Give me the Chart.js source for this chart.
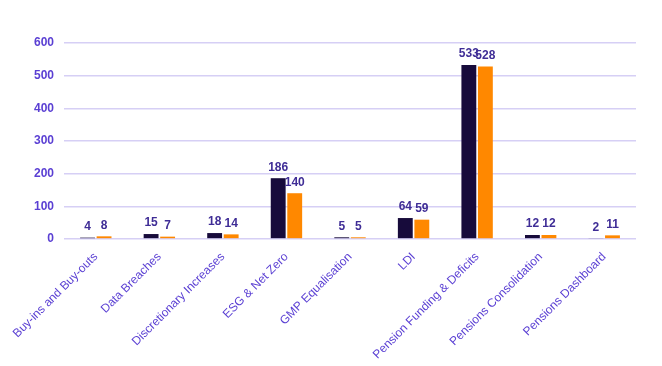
<!DOCTYPE html>
<html>
<head>
<meta charset="utf-8">
<script src="https://cdn.jsdelivr.net/npm/chart.js@4"></script>
<style>
  html, body { margin: 0; padding: 0; background: #fff; }
  #wrap { width: 662px; height: 366px; }
</style>
</head>
<body>
<div id="wrap"><canvas id="topicChart"></canvas></div>
<script>
const categories = [
    'Buy-ins and Buy-outs', 'Data Breaches', 'Discretionary Increases',
    'ESG & Net Zero', 'GMP Equalisation', 'LDI',
    'Pension Funding & Deficits', 'Pensions Consolidation', 'Pensions Dashboard'
];
const seriesA = [4, 15, 18, 186, 5, 64, 533, 12, 2];   // dark bars
const seriesB = [8, 7, 14, 140, 5, 59, 528, 12, 11];   // orange bars
const yTicks = [0, 100, 200, 300, 400, 500, 600];

// draw the value above each bar (no datalabels plugin offline)
const barValues = {
    id: 'barValues',
    afterDatasetsDraw(chart) {
        const ctx = chart.ctx;
        ctx.save();
        ctx.font = 'bold 12px "Liberation Sans", Arial, sans-serif';
        ctx.fillStyle = '#3f2d96';
        ctx.textAlign = 'center';
        ctx.textBaseline = 'bottom';
        chart.data.datasets.forEach((ds, i) => {
            chart.getDatasetMeta(i).data.forEach((bar, j) => {
                ctx.fillText(ds.data[j], bar.x, bar.y - 5);
            });
        });
        ctx.restore();
    }
};

const ctx = document.getElementById('topicChart').getContext('2d');
new Chart(ctx, {
    type: 'bar',
    data: {
        labels: categories,
        datasets: [
            { label: 'A', data: seriesA, backgroundColor: '#170b3b' },
            { label: 'B', data: seriesB, backgroundColor: '#ff8800' }
        ]
    },
    options: {
        responsive: true,
        maintainAspectRatio: false,
        animation: false,
        categoryPercentage: 0.52,
        barPercentage: 0.9,
        layout: { padding: { top: 43, right: 26, left: 24, bottom: 1 } },
        plugins: { legend: { display: false }, tooltip: { enabled: false } },
        scales: {
            x: {
                grid: { display: false },
                border: { display: false },
                afterFit(scale) { scale.paddingLeft = 0; scale.paddingRight = 0; },
                ticks: {
                    color: '#5a3fd3',
                    font: { family: '"Liberation Sans", Arial, sans-serif', size: 12 },
                    maxRotation: 45, minRotation: 45, padding: 3
                }
            },
            y: {
                min: 0, max: 600,
                afterBuildTicks(axis) { axis.ticks = yTicks.map(v => ({ value: v })); },
                grid: { color: '#d6cff5', lineWidth: 1.5, drawTicks: false },
                border: { display: false },
                ticks: {
                    color: '#5a3fd3',
                    padding: 10,
                    font: { family: '"Liberation Sans", Arial, sans-serif', size: 12, weight: 'bold' }
                }
            }
        }
    },
    plugins: [barValues]
});
</script>
</body>
</html>
